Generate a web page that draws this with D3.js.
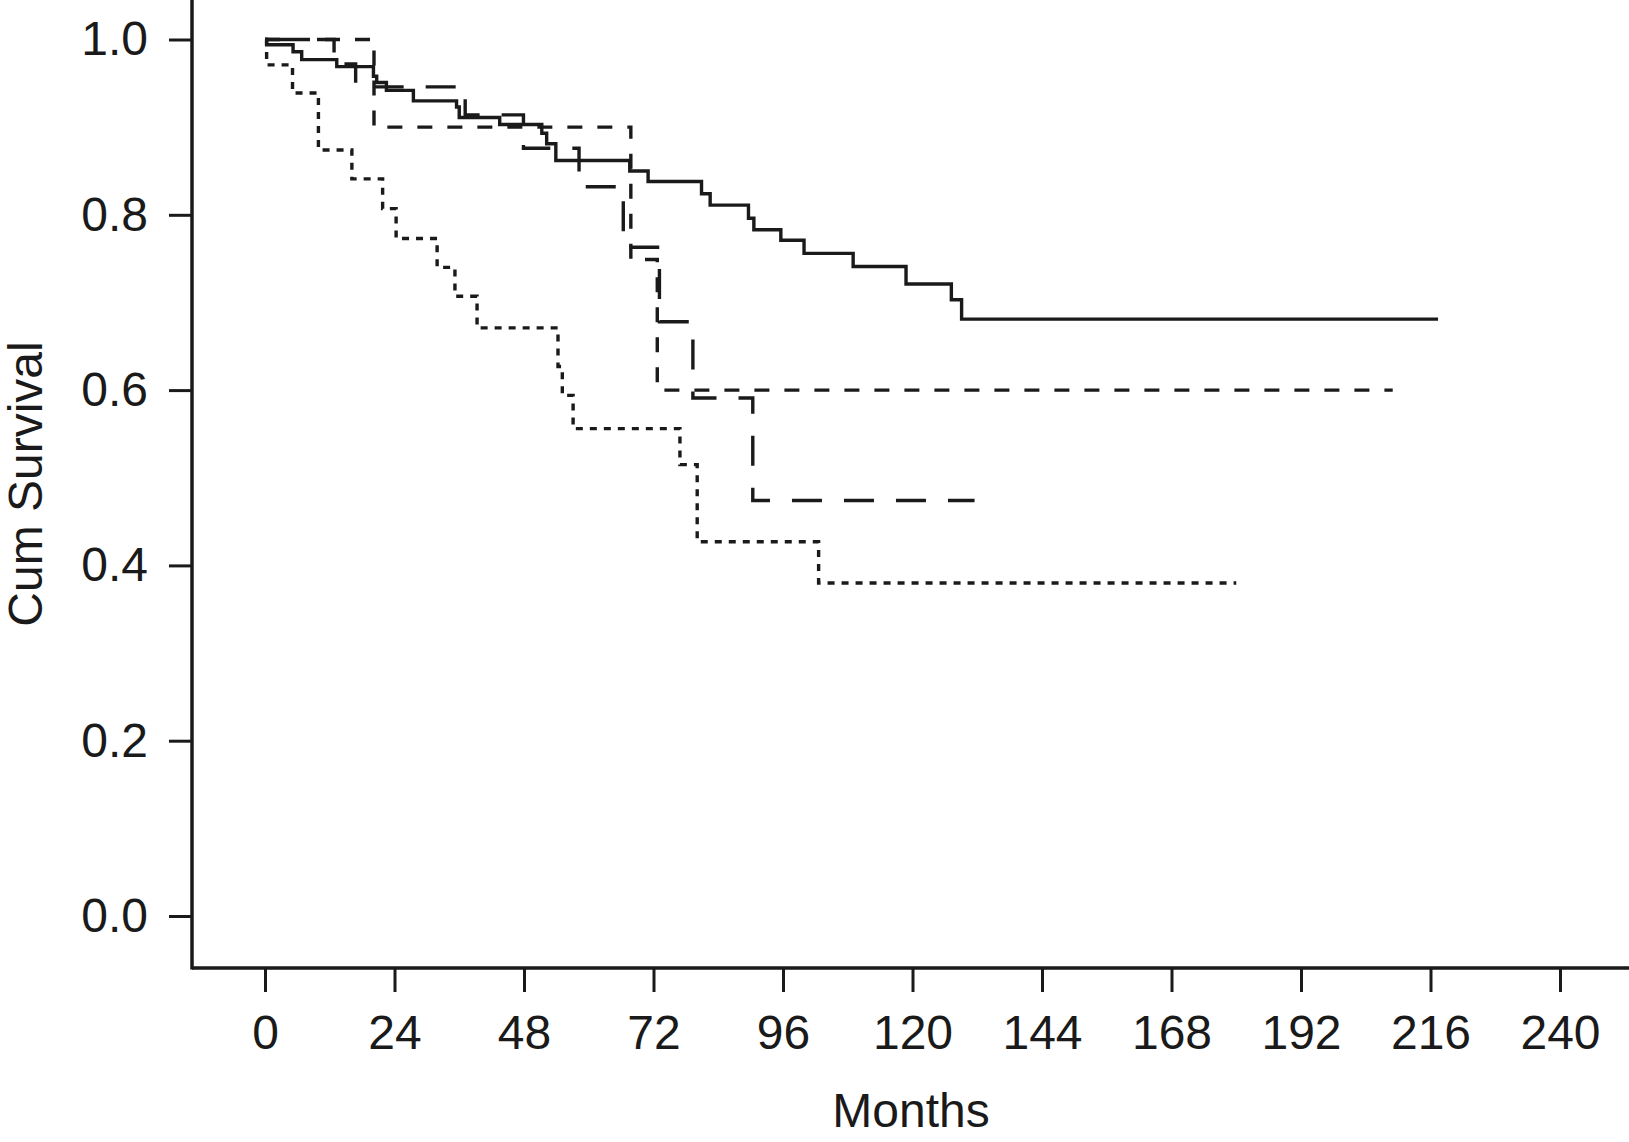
<!DOCTYPE html>
<html>
<head>
<meta charset="utf-8">
<script src="https://cdn.jsdelivr.net/npm/d3@7"></script>
<style>
  html, body { margin: 0; padding: 0; background: #fff; }
  svg text { font-family: "Liberation Sans", Arial, sans-serif; fill: #1a1a1a; }
</style>
</head>
<body>
<div id="chart"></div>
<script>
// Kaplan-Meier steps: [months, cumulative survival after the step]
const groupA = [[0,1],[0.3,0.994],[5.2,0.986],[6.8,0.977],[13.3,0.969],[20.1,0.958],[20.7,0.951],
  [22.5,0.942],[27.5,0.930],[35.5,0.923],[36.0,0.911],[43.5,0.903],[51.3,0.893],[52.2,0.881],
  [53.9,0.862],[67.6,0.850],[71.0,0.838],[80.9,0.824],[82.5,0.811],[89.6,0.796],[90.6,0.783],
  [95.6,0.771],[99.9,0.756],[109.0,0.741],[118.8,0.721],[127.2,0.703],[129.1,0.681]];
const groupB = [[0,1],[12.8,0.972],[16.8,0.946],[37.1,0.914],[47.9,0.876],[58.2,0.832],
  [66.4,0.763],[73.1,0.678],[79.3,0.591],[90.4,0.474]];
const groupC = [[0,1],[20.2,0.900],[67.8,0.749],[72.7,0.600]];
const groupD = [[0,1],[0.3,0.971],[5.1,0.939],[9.9,0.874],[16.1,0.841],[21.8,0.807],[24.3,0.773],
  [31.9,0.740],[35.2,0.707],[39.3,0.671],[54.3,0.627],[55.1,0.594],[57.1,0.556],[76.9,0.515],
  [80.1,0.427],[102.6,0.380]];
// last follow-up (months) for each group
const lastFollowUp = [217.4, 131.5, 209, 180];

const xTicks = [0,24,48,72,96,120,144,168,192,216,240];
const yTicks = [0,0.2,0.4,0.6,0.8,1.0];

const width = 1629, height = 1142;
const svg = d3.select("#chart").append("svg")
    .attr("width", width).attr("height", height);

const x = d3.scaleLinear().domain([0,240]).range([265,1560]);
const y = d3.scaleLinear().domain([0,1]).range([916,39.5]);

const axisX = 192, axisY = 968;
const ink = "#1a1a1a";

// y axis
const gy = svg.append("g")
    .attr("transform", `translate(${axisX},0)`)
    .call(d3.axisLeft(y).tickValues(yTicks).tickSize(23).tickPadding(21).tickFormat(d3.format(".1f")));
gy.select(".domain").remove();
gy.selectAll(".tick line").attr("stroke", ink).attr("stroke-width", 3);
gy.selectAll(".tick text").attr("font-size", 48);

// x axis
const gx = svg.append("g")
    .attr("transform", `translate(0,${axisY})`)
    .call(d3.axisBottom(x).tickValues(xTicks).tickSize(24).tickPadding(23));
gx.select(".domain").remove();
gx.selectAll(".tick line").attr("stroke", ink).attr("stroke-width", 3);
gx.selectAll(".tick text").attr("font-size", 48);

// axis lines
svg.append("line").attr("x1", axisX).attr("x2", axisX).attr("y1", 0).attr("y2", axisY + 1.5)
    .attr("stroke", ink).attr("stroke-width", 3.5);
svg.append("line").attr("x1", axisX).attr("x2", width).attr("y1", axisY).attr("y2", axisY)
    .attr("stroke", ink).attr("stroke-width", 3.5);

// titles
svg.append("text").attr("x", 911).attr("y", 1127).attr("text-anchor", "middle")
    .attr("font-size", 48).text("Months");
svg.append("text").attr("transform", "translate(42,484) rotate(-90)").attr("text-anchor", "middle")
    .attr("font-size", 48).text("Cum Survival");

// survival curves
const line = d3.line().x(d => x(d[0])).y(d => y(d[1])).curve(d3.curveStepAfter);
const groups = [groupA, groupB, groupC, groupD];
const dashes = [null, "30,22", "15,15", "7,7"];

groups.forEach((g, i) => {
  const pts = g.concat([[lastFollowUp[i], g[g.length - 1][1]]]);
  svg.append("path")
      .attr("d", line(pts))
      .attr("fill", "none")
      .attr("stroke", ink)
      .attr("stroke-width", 3.4)
      .attr("stroke-dasharray", dashes[i]);
});
</script>
</body>
</html>
